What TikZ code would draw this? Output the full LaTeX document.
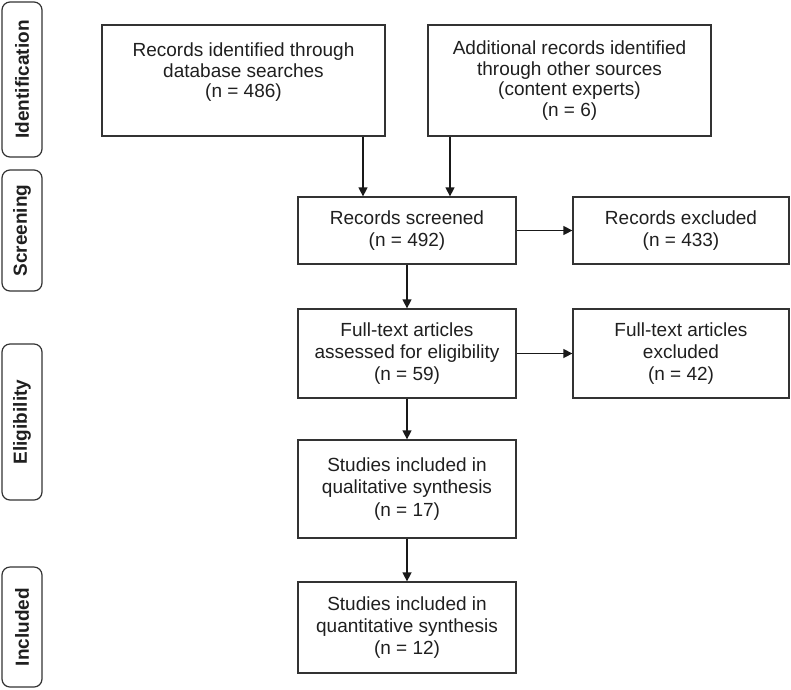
\documentclass[tikz,border=0pt]{standalone}
\usepackage{fontspec}
\setmainfont{Liberation Sans}
\usetikzlibrary{arrows.meta}
\begin{document}
\begin{tikzpicture}[x=1pt,y=-1pt,
  box/.style={draw=black!80,line width=1.3pt,align=center,text=black!88,font=\fontsize{19}{22.3}\selectfont,inner sep=0pt},
  topbox/.style={box,font=\fontsize{19}{20.6}\selectfont},
  phase/.style={draw=black!80,line width=1.2pt,rounded corners=8pt},
  phasetext/.style={rotate=90,text=black!88,font=\fontsize{19}{22}\selectfont\bfseries},
  arr/.style={-{Triangle[length=9pt,width=9pt]},line width=1.4pt,draw=black!90}]
\useasboundingbox (0,0) rectangle (791,689);
% phase labels
\draw[phase] (2,2) rectangle (42,157);
\node[phasetext] (pid) at (22,79.5) {Identification};
\draw[phase] (2,170) rectangle (42,291);
\node[phasetext] (pscr) at (22,230.5) {Screening};
\draw[phase] (2,344) rectangle (42,500);
\node[phasetext] (pel) at (22,422) {Eligibility};
\draw[phase] (2,567) rectangle (42,687);
\node[phasetext] (pinc) at (22,627) {Included};
% boxes
\node[topbox,minimum width=283pt,minimum height=111pt] (a) at (243.5,80.5) {Records identified through\\database searches\\(n = 486)\\\mbox{}};
\node[topbox,minimum width=283pt,minimum height=111pt] (b) at (569.5,80.5) {Additional records identified\\through other sources\\(content experts)\\(n = 6)};
\node[box,minimum width=218pt,minimum height=67pt] (c) at (407,230.5) {Records screened\\(n = 492)};
\node[box,minimum width=216pt,minimum height=67pt] (d) at (681,230.5) {Records excluded\\(n = 433)};
\node[box,minimum width=218pt,minimum height=89pt] (e) at (407,353.5) {Full-text articles\\assessed for eligibility\\(n = 59)};
\node[box,minimum width=216pt,minimum height=89pt] (f) at (681,353.5) {Full-text articles\\excluded\\(n = 42)};
\node[box,minimum width=218pt,minimum height=98pt] (g) at (407,489) {Studies included in\\qualitative synthesis\\(n = 17)};
\node[box,minimum width=218pt,minimum height=91pt] (h) at (407,627.5) {Studies included in\\quantitative synthesis\\(n = 12)};
% arrows
\draw[arr] (a.south -| 363,0) -- (c.north -| 363,0);
\draw[arr] (b.south -| 450,0) -- (c.north -| 450,0);
\draw[arr] (c) -- (d);
\draw[arr] (c) -- (e);
\draw[arr] (e) -- (f);
\draw[arr] (e) -- (g);
\draw[arr] (g) -- (h);
\end{tikzpicture}
\end{document}
